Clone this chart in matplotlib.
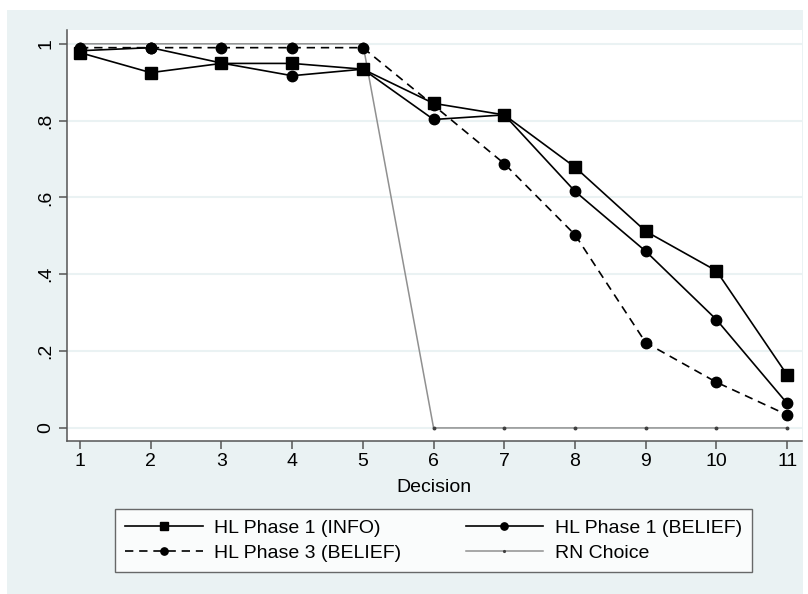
import matplotlib
matplotlib.use("Agg")
import matplotlib.pyplot as plt
from matplotlib.patches import Rectangle

plt.rcParams['font.family'] = ['Liberation Sans', 'DejaVu Sans']

# data
decision = [1, 2, 3, 4, 5, 6, 7, 8, 9, 10, 11]
info_p1 = [0.977, 0.925, 0.949, 0.949, 0.934, 0.845, 0.815, 0.679, 0.512, 0.409, 0.138]
belief_p1 = [0.982, 0.99, 0.95, 0.917, 0.934, 0.803, 0.815, 0.616, 0.46, 0.282, 0.064]
belief_p3 = [0.99, 0.99, 0.99, 0.99, 0.99, 0.84, 0.688, 0.503, 0.222, 0.119, 0.034]
rn_choice = [1, 1, 1, 1, 1, 0, 0, 0, 0, 0, 0]

yticks = [0, 0.2, 0.4, 0.6, 0.8, 1]
ytick_labels = ['0', '.2', '.4', '.6', '.8', '1']

BG = '#EAF2F3'

fig = plt.figure(figsize=(8.08, 5.94), dpi=100)
fig.patches.append(Rectangle((7 / 808, 0), 796 / 808, 584 / 594,
                             transform=fig.transFigure, facecolor=BG,
                             edgecolor='none', zorder=-10))

ax = fig.add_axes([67 / 808, 1 - 441 / 594, 735 / 808, 411 / 594])
ax.set_facecolor('white')

ax.plot(decision, info_p1, color='black', lw=1.2, marker='s', ms=8.5,
        label='HL Phase 1 (INFO)', zorder=4)
ax.plot(decision, belief_p1, color='black', lw=1.2, marker='o', ms=7.5,
        label='HL Phase 1 (BELIEF)', zorder=4)
ax.plot(decision, belief_p3, color='black', lw=1.2, ls=(0, (5, 3.5)), marker='o', ms=7.5,
        label='HL Phase 3 (BELIEF)', zorder=4)
ax.plot(decision, rn_choice, color='#909090', lw=1.1, marker='o', ms=1.8,
        mfc='#404040', mec='#404040', label='RN Choice', zorder=3)

ax.set_xlim(0.816, 11.21)
ax.set_ylim(-0.034, 1.036)
ax.set_xticks(decision)
ax.set_yticks(yticks)
ax.set_yticklabels(ytick_labels, rotation=90, va='center')
ax.grid(axis='y', color=BG, lw=1.5)
ax.set_axisbelow(True)

for s in ['top', 'right']:
    ax.spines[s].set_visible(False)
for s in ['left', 'bottom']:
    ax.spines[s].set_color('#555555')
    ax.spines[s].set_linewidth(1.1)
ax.tick_params(direction='out', length=6, width=1.1, color='#555555',
               labelsize=14, pad=3)

fig.text(434 / 808, 1 - 487 / 594, 'Decision', ha='center', va='center', fontsize=14)

# legend fills column-wise, so reorder to get row-wise layout
handles, labels = ax.get_legend_handles_labels()
order = [0, 2, 1, 3]
leg = fig.legend([handles[i] for i in order], [labels[i] for i in order],
                 loc='center', bbox_to_anchor=(433.5 / 808, 1 - 540.5 / 594),
                 ncol=2, fontsize=14, frameon=True, fancybox=False,
                 handlelength=4, handletextpad=0.6, columnspacing=3.3,
                 labelspacing=0.4, borderpad=0.5, markerscale=0.7)
leg.get_frame().set_edgecolor('#444444')
leg.get_frame().set_linewidth(1.0)

fig.savefig('out.png', dpi=100, facecolor='white')
